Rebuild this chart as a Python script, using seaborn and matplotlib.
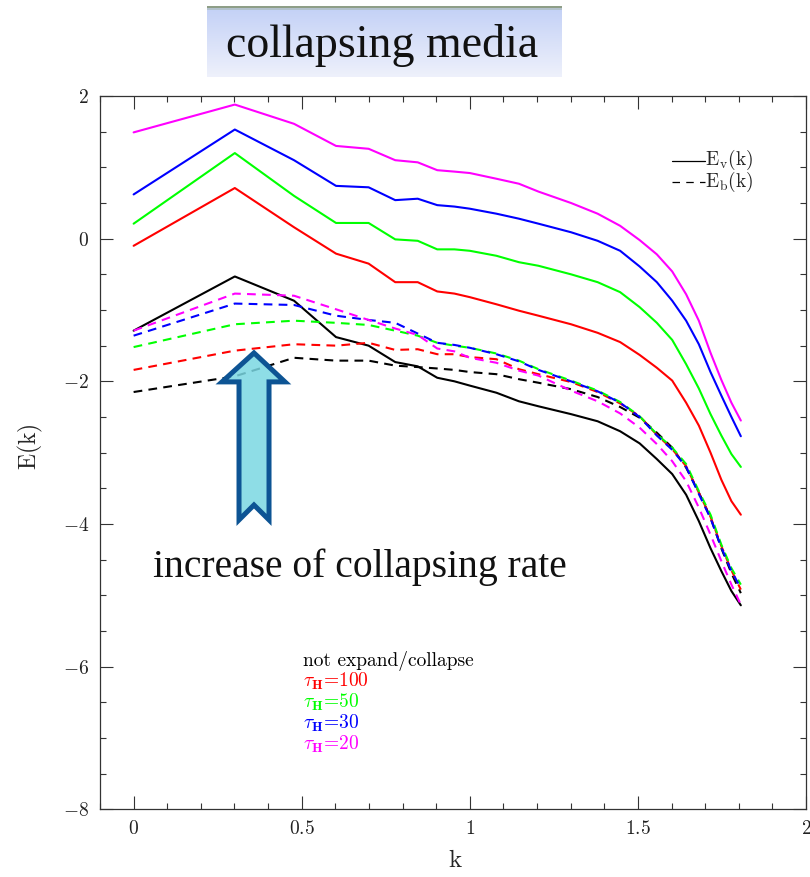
import numpy as np
import pandas as pd
import seaborn as sns
import matplotlib
matplotlib.use("Agg")
import matplotlib.pyplot as plt
from matplotlib.patches import Polygon
from matplotlib.ticker import MultipleLocator, FuncFormatter

sns.set_style("ticks")
plt.rcParams["mathtext.fontset"] = "cm"
plt.rcParams["font.family"] = ["DejaVu Serif"]

# ---- spectra: wavenumbers and log-spaced energy spectra ----
WAVENUMBER = [1, 2, 3, 4, 5, 6, 7, 8, 9, 10, 12, 14, 16, 20, 24, 28, 32,
              36, 40, 44, 48, 52, 56, 60, 64]

CASES = ["not expand/collapse", "tau100", "tau50", "tau30", "tau20"]
CASE_LABELS = ["not expand/collapse",
               r"$\tau_{\mathbf{H}}$=100",
               r"$\tau_{\mathbf{H}}$=50",
               r"$\tau_{\mathbf{H}}$=30",
               r"$\tau_{\mathbf{H}}$=20"]
CASE_COLORS = ["#000000", "#ff0000", "#00ff00", "#0000ff", "#ff00ff"]

# kinetic spectra E_v(k)
EV_NONE = [-1.29, -0.53, -0.87, -1.38, -1.50, -1.73, -1.79, -1.95, -2.00, -2.06,
           -2.16, -2.28, -2.35, -2.46, -2.56, -2.70, -2.87, -3.09, -3.30, -3.59,
           -3.96, -4.34, -4.66, -4.94, -5.14]
EV_T100 = [-0.10, 0.71, 0.16, -0.21, -0.35, -0.61, -0.61, -0.74, -0.77, -0.82,
           -0.92, -1.01, -1.08, -1.20, -1.32, -1.45, -1.63, -1.81, -1.99, -2.30,
           -2.62, -3.00, -3.38, -3.68, -3.87]
EV_T50 = [0.21, 1.20, 0.60, 0.22, 0.22, -0.01, -0.03, -0.15, -0.15, -0.17,
          -0.24, -0.33, -0.38, -0.50, -0.61, -0.75, -0.96, -1.18, -1.42, -1.76,
          -2.10, -2.46, -2.76, -3.02, -3.20]
EV_T30 = [0.62, 1.53, 1.10, 0.74, 0.72, 0.54, 0.56, 0.47, 0.45, 0.42,
          0.35, 0.28, 0.21, 0.09, -0.03, -0.17, -0.39, -0.61, -0.87, -1.15,
          -1.48, -1.87, -2.20, -2.50, -2.77]
EV_T20 = [1.49, 1.88, 1.61, 1.30, 1.26, 1.10, 1.07, 0.96, 0.94, 0.92,
          0.84, 0.77, 0.66, 0.50, 0.35, 0.18, -0.02, -0.22, -0.46, -0.78,
          -1.15, -1.60, -1.98, -2.30, -2.55]

# magnetic spectra E_b(k)
EB_NONE = [-2.15, -1.93, -1.67, -1.71, -1.71, -1.78, -1.80, -1.82, -1.84, -1.87,
           -1.90, -1.97, -2.02, -2.11, -2.22, -2.36, -2.51, -2.72, -2.93, -3.21,
           -3.56, -3.91, -4.34, -4.69, -4.97]
EB_T100 = [-1.84, -1.57, -1.48, -1.50, -1.46, -1.56, -1.55, -1.62, -1.62, -1.66,
           -1.69, -1.83, -1.90, -2.01, -2.15, -2.31, -2.49, -2.75, -2.95, -3.19,
           -3.56, -3.90, -4.31, -4.65, -4.92]
EB_T50 = [-1.52, -1.20, -1.15, -1.18, -1.21, -1.29, -1.36, -1.46, -1.50, -1.53,
          -1.61, -1.71, -1.83, -1.99, -2.13, -2.29, -2.49, -2.74, -2.93, -3.16,
          -3.54, -3.87, -4.29, -4.62, -4.85]
EB_T30 = [-1.36, -0.91, -0.93, -1.08, -1.14, -1.18, -1.33, -1.46, -1.49, -1.53,
          -1.62, -1.72, -1.84, -2.00, -2.14, -2.30, -2.50, -2.76, -2.96, -3.20,
          -3.58, -3.92, -4.33, -4.66, -4.90]
EB_T20 = [-1.29, -0.77, -0.80, -0.99, -1.14, -1.26, -1.35, -1.54, -1.58, -1.67,
          -1.74, -1.85, -1.92, -2.13, -2.28, -2.45, -2.65, -2.88, -3.12, -3.40,
          -3.77, -4.15, -4.52, -4.85, -5.13]

EV = [EV_NONE, EV_T100, EV_T50, EV_T30, EV_T20]
EB = [EB_NONE, EB_T100, EB_T50, EB_T30, EB_T20]

X_TICKS = [0, 0.5, 1, 1.5, 2]
Y_TICKS = [-8, -6, -4, -2, 0, 2]

# ---- long-form table for seaborn ----
logk = np.log10(WAVENUMBER)
rows = []
for case, ev, eb in zip(CASES, EV, EB):
    for xv, v in zip(logk, ev):
        rows.append({"k": xv, "E": v, "case": case, "spectrum": "Ev"})
    for xv, v in zip(logk, eb):
        rows.append({"k": xv, "E": v, "case": case, "spectrum": "Eb"})
df = pd.DataFrame(rows)

fig = plt.figure(figsize=(8.1, 8.77), dpi=100)
ax = fig.add_axes([100 / 810, 1 - 809.3 / 877, 706 / 810, 713.3 / 877])

sns.lineplot(data=df, x="k", y="E", hue="case", style="spectrum",
             hue_order=CASES, style_order=["Ev", "Eb"],
             palette=dict(zip(CASES, CASE_COLORS)),
             dashes={"Ev": "", "Eb": (4.2, 3.0)},
             sort=False, estimator=None, legend=False, linewidth=1.5, ax=ax)

# line-style key, upper right
ax.plot([0.810, 0.857], [0.9093, 0.9093], transform=ax.transAxes,
        color="black", lw=0.9)
ax.plot([0.810, 0.857], [0.8790, 0.8790], transform=ax.transAxes,
        color="black", lw=0.9, dashes=(6, 5))
ax.text(0.857, 0.9033, r"$\mathrm{E_v(k)}$", transform=ax.transAxes,
        fontsize=14, va="baseline", ha="left")
ax.text(0.857, 0.8728, r"$\mathrm{E_b(k)}$", transform=ax.transAxes,
        fontsize=14, va="baseline", ha="left")

# colour key, lower middle
for i, (lab, col) in enumerate(zip(CASE_LABELS, CASE_COLORS)):
    ax.text(0.2871, 0.2010 - i * 0.0292, lab, color=col, fontsize=14,
            family="cmr10", va="baseline", ha="left", transform=ax.transAxes)

ax.set_xlim(-0.1, 2.0)
ax.set_ylim(-8, 2)
ax.set_xticks(X_TICKS)
ax.set_yticks(Y_TICKS)
ax.xaxis.set_minor_locator(MultipleLocator(0.1))
ax.yaxis.set_minor_locator(MultipleLocator(0.5))
fmt = FuncFormatter(lambda v, pos: f"${v:g}$")
ax.xaxis.set_major_formatter(fmt)
ax.yaxis.set_major_formatter(fmt)
ax.tick_params(which="both", direction="in", top=True, right=True,
               width=0.8, color="#333333", labelsize=14, labelcolor="#222222")
ax.tick_params(which="major", length=9.5, pad=8)
ax.tick_params(which="minor", length=4.3)
for sp in ax.spines.values():
    sp.set_linewidth(0.9)
    sp.set_color("#333333")

ax.set_xlabel(r"$\mathrm{k}$", fontsize=18)
ax.set_ylabel(r"$\mathrm{E(k)}$", fontsize=17)
ax.xaxis.set_label_coords(0.503, -0.055)
ax.yaxis.set_label_coords(-0.078, 0.509)

# up arrow: increase of collapsing rate
arrow = Polygon([(0.2181, 0.6398), (0.2620, 0.5992), (0.2394, 0.5992),
                 (0.2394, 0.4057), (0.2181, 0.4266), (0.1969, 0.4057),
                 (0.1969, 0.5992), (0.1728, 0.5992)],
                closed=True, transform=ax.transAxes,
                facecolor=(0.478, 0.843, 0.886, 0.85), edgecolor="#0d5494",
                lw=3.6, joinstyle="miter", zorder=6, clip_on=False)
ax.add_patch(arrow)
fig.text(153 / 810, 1 - 577 / 877, "increase of collapsing rate",
         family="Liberation Serif", fontsize=28.5, va="baseline", ha="left",
         color="#111111")

# heading banner
bax = fig.add_axes([207.3 / 810, 1 - 77.3 / 877, 354.4 / 810, 71.3 / 877])
n = 72
top_c = np.array([0.760, 0.815, 0.965])
bot_c = np.array([0.935, 0.945, 0.985])
t = np.linspace(0, 1, n)[:, None]
grad = top_c * (1 - t) + bot_c * t
grad[:3] = [0.56, 0.62, 0.53]
grad[3:5] = [0.70, 0.76, 0.80]
bax.imshow(grad[:, None, :], aspect="auto", extent=[0, 1, 0, 1])
bax.set_axis_off()
fig.text(382 / 810, 1 - 57 / 877, "collapsing media",
         family="Liberation Serif", fontsize=33, va="baseline", ha="center",
         color="#111111")

fig.savefig("out.png", dpi=100, facecolor="white")
